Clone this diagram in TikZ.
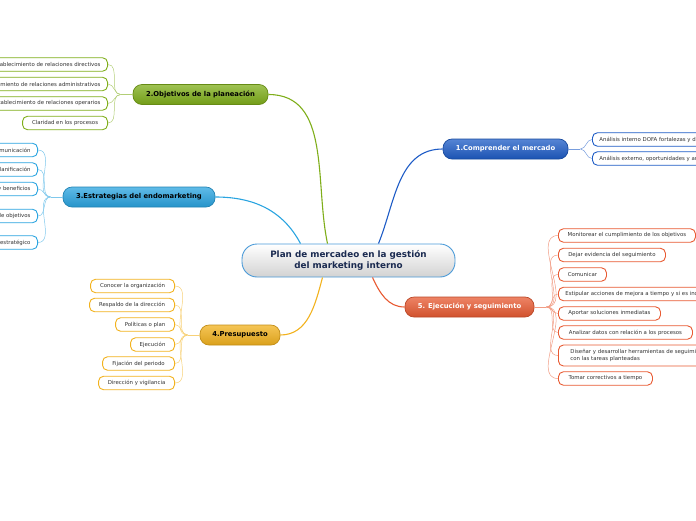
\documentclass[tikz,border=0pt]{standalone}
\usepackage{fontspec}
\setmainfont{DejaVu Sans}
\usetikzlibrary{positioning}

\definecolor{compblue}{HTML}{1E5CC6}
\definecolor{objgreen}{HTML}{7FAE1A}
\definecolor{estrblue}{HTML}{2AA4E0}
\definecolor{presyellow}{HTML}{F2B21E}
\definecolor{ejecred}{HTML}{E85A32}
\definecolor{planborder}{HTML}{4A9AD8}
\definecolor{plantext}{HTML}{1A2A50}
\definecolor{leaftext}{HTML}{333333}

\begin{document}
\begin{tikzpicture}[x=1pt, y=-1pt,
    plannode/.style={draw=planborder, line width=0.9pt, rounded corners=15pt, top color=white, bottom color=gray!35, minimum width=213pt, minimum height=33pt, align=center, text=plantext, font=\bfseries\fontsize{8.8}{10.6}\selectfont},
    branch/.style={draw=#1!80!black, line width=0.7pt, rounded corners=9pt, top color=#1!75!white, bottom color=#1!90!black, minimum height=20pt, font=\bfseries\fontsize{6.8}{8}\selectfont},
    leaf/.style={draw=#1, line width=0.9pt, rounded corners=5pt, fill=white, minimum height=13.5pt, inner xsep=7pt, inner ysep=1pt, align=left, text=leaftext, font=\fontsize{5.4}{6.4}\selectfont},
    trunk/.style={draw=#1, line width=1.1pt},
    twig/.style={draw=#1!60!white, line width=0.5pt}]
    \useasboundingbox (0,0) rectangle (696,520);
    \clip (0,0) rectangle (696,520);

    % Nodes
    \node[plannode] (plan) at (348.5,260.5) {Plan de mercadeo en la gestión\\del marketing interno};
    \node[branch=compblue, text=white, minimum width=125pt] (comp) at (505.5,149) {1.Comprender el mercado};
    \node[branch=objgreen, text=black, minimum width=135pt] (obj) at (200.5,94.5) {2.Objetivos de la planeación};
    \node[branch=estrblue, text=black, minimum width=152pt] (estr) at (139,197) {3.Estrategias del endomarketing};
    \node[branch=presyellow, text=black, minimum width=80pt] (pres) at (240,335) {4.Presupuesto};
    \node[branch=ejecred, text=white, minimum width=129pt] (ejec) at (469.5,307) {5. Ejecución y seguimiento};

    % Leaves 1
    \node[leaf=compblue, anchor=west] (c1) at (592,139.5) {Análisis interno DOFA fortalezas y debilidades};
    \node[leaf=compblue, anchor=west] (c2) at (592,158.5) {Análisis externo, oportunidades y amenazas};

    % Leaves 2
    \node[leaf=objgreen, anchor=east] (o1) at (108,64.5) {Establecimiento de relaciones directivos};
    \node[leaf=objgreen, anchor=east] (o2) at (108,84) {Mantenimiento de relaciones administrativos};
    \node[leaf=objgreen, anchor=east] (o3) at (108,103.5) {Establecimiento de relaciones operarios};
    \node[leaf=objgreen, anchor=east, minimum width=85pt] (o4) at (108,123) {Claridad en los procesos};

    % Leaves 3
    \node[leaf=estrblue, anchor=east] (e1) at (38,150) {Comunicación};
    \node[leaf=estrblue, anchor=east] (e2) at (38,169.5) {Planificación};
    \node[leaf=estrblue, anchor=east] (e3) at (38,189) {Incentivos y beneficios};
    \node[leaf=estrblue, anchor=east] (e4) at (38,216) {Cumplimiento de objetivos};
    \node[leaf=estrblue, anchor=east] (e5) at (38,242.5) {Plan estratégico};

    % Leaves 4
    \node[leaf=presyellow, anchor=east, minimum width=84pt] (p1) at (175,286) {Conocer la organización};
    \node[leaf=presyellow, anchor=east, minimum width=85pt] (p2) at (175,305) {Respaldo de la dirección};
    \node[leaf=presyellow, anchor=east, minimum width=59pt] (p3) at (175,324.5) {Políticas o plan};
    \node[leaf=presyellow, anchor=east, minimum width=44pt] (p4) at (175,344.5) {Ejecución};
    \node[leaf=presyellow, anchor=east, minimum width=72pt] (p5) at (175,363.5) {Fijación del periodo};
    \node[leaf=presyellow, anchor=east, minimum width=76pt] (p6) at (175,383) {Dirección y vigilancia};

    % Leaves 5
    \node[leaf=ejecred, anchor=west, minimum width=137pt] (j1) at (558,235.5) {Monitorear el cumplimiento de los objetivos};
    \node[leaf=ejecred, anchor=west, minimum width=107pt] (j2) at (558,255) {Dejar evidencia del seguimiento};
    \node[leaf=ejecred, anchor=west, minimum width=48pt] (j3) at (558,274.5) {Comunicar};
    \node[leaf=ejecred, anchor=west] (j4) at (558,294) {Estipular acciones de mejora a tiempo y si es indispensable};
    \node[leaf=ejecred, anchor=west, minimum width=102pt] (j5) at (558,313.5) {Aportar soluciones inmediatas};
    \node[leaf=ejecred, anchor=west, minimum width=134pt] (j6) at (558,332.5) {Analizar datos con relación a los procesos};
    \node[leaf=ejecred, anchor=west, minimum height=21pt, inner xsep=12pt] (j7) at (558,355.5) {Diseñar y desarrollar herramientas de seguimiento\\con las tareas planteadas};
    \node[leaf=ejecred, anchor=west, minimum width=94pt] (j8) at (558,378.5) {Tomar correctivos a tiempo};

    % Edges
    \draw[trunk=compblue] ([xshift=30pt]plan.north) to[out=68, in=180] (comp.west);
    \draw[trunk=objgreen] ([xshift=-21pt]plan.north) to[out=102, in=0] (obj.east);
    \draw[trunk=estrblue] ([xshift=-48pt]plan.north) to[out=118, in=0] (estr.east);
    \draw[trunk=presyellow] ([xshift=-26pt]plan.south) to[out=-105, in=0] (pres.east);
    \draw[trunk=ejecred] ([xshift=24pt]plan.south) to[out=-65, in=180] (ejec.west);

    \draw[twig=compblue] (comp.east) -- ++(12,0) coordinate (fc);
    \draw[twig=objgreen] (obj.west) -- ++(-12,0) coordinate (fo);
    \draw[twig=estrblue] (estr.west) -- ++(-12,0) coordinate (fe);
    \draw[twig=presyellow] (pres.west) -- ++(-12,0) coordinate (fp);
    \draw[twig=ejecred] (ejec.east) -- ++(12,0) coordinate (fj);

    \foreach \n in {c1,c2} \draw[twig=compblue] (fc) to[out=0, in=180] (\n.west);
    \foreach \n in {o1,o2,o3,o4} \draw[twig=objgreen] (fo) to[out=180, in=0] (\n.east);
    \foreach \n in {e1,e2,e3,e4,e5} \draw[twig=estrblue] (fe) to[out=180, in=0] (\n.east);
    \foreach \n in {p1,p2,p3,p4,p5,p6} \draw[twig=presyellow] (fp) to[out=180, in=0] (\n.east);
    \foreach \n in {j1,j2,j3,j4,j5,j6,j7,j8} \draw[twig=ejecred] (fj) to[out=0, in=180] (\n.west);
\end{tikzpicture}
\end{document}
